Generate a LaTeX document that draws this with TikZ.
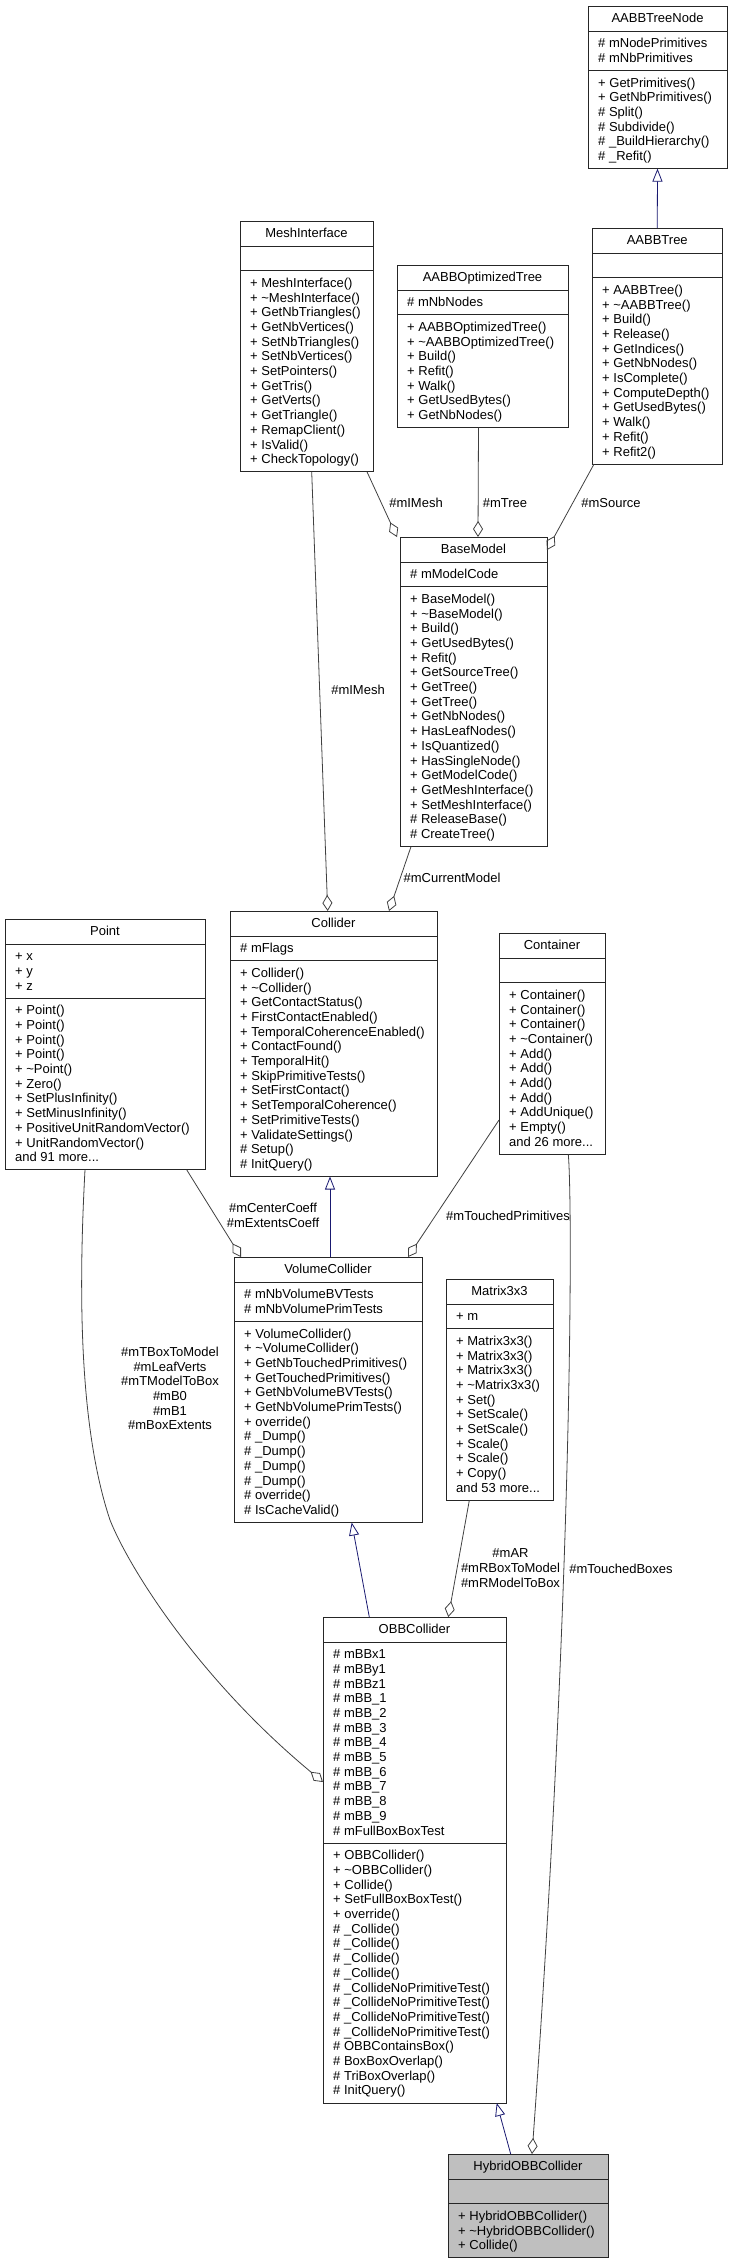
\documentclass[tikz,border=0pt]{standalone}
\usepackage{fontspec}
\setmainfont{Liberation Sans}
\usetikzlibrary{arrows.meta,calc}
\definecolor{inhblue}{HTML}{191970}
\definecolor{edgegray}{HTML}{404040}
\newcommand\ms{\rule[-3.3pt]{0pt}{14.7pt}}
\newcommand\mfont{\fontsize{13}{14.7}\selectfont}
\newcommand\tl{\textasciitilde}
\tikzset{
  classbox/.style={draw=black!85, line width=0.9pt, fill=white, inner sep=0pt, outer sep=0pt},
  sepline/.style={draw=black!85, line width=0.9pt},
  titletext/.style={inner sep=0pt, font=\mfont, anchor=north},
  membertext/.style={inner sep=0pt, font=\mfont, align=left, anchor=north west},
  lbl/.style={inner sep=0pt, font=\mfont, align=center},
  usage/.style={draw=edgegray, line width=0.8pt, -{Diamond[open, length=16pt, width=10pt]}},
  inherit/.style={draw=inhblue, line width=0.8pt, -{Triangle[open, length=13pt, width=10pt]}},
}
% [opts]{name}{x,y}{width}{title}{nattr}{attrs}{nmeth}{meths}
\newcommand\umlclass[9][]{%
  \pgfmathsetmacro\hA{max(#6,1)*14.7+10}%
  \pgfmathsetmacro\hB{max(#8,1)*14.7+10}%
  \pgfmathsetmacro\hT{25+\hA+\hB}%
  \pgfmathsetmacro\sB{25+\hA}%
  \pgfmathsetmacro\sC{30+\hA}%
  \node[classbox,#1,minimum width=#4pt,minimum height=\hT pt,anchor=north west] (#2) at (#3) {};
  \node[titletext] (#2-t) at ([yshift=-5pt]#2.north) {\ms#5};
  \draw[sepline] ([yshift=-25pt]#2.north west) -- ([yshift=-25pt]#2.north east);
  \draw[sepline] ([yshift=-\sB pt]#2.north west) -- ([yshift=-\sB pt]#2.north east);
  \ifnum#6>0 \node[membertext] (#2-a) at ([xshift=10pt,yshift=-30pt]#2.north west) {#7};\fi
  \ifnum#8>0 \node[membertext] (#2-m) at ([xshift=10pt,yshift=-\sC pt]#2.north west) {#9};\fi
}
\begin{document}
\begin{tikzpicture}[x=1pt,y=-1pt]
\useasboundingbox (0,0) rectangle (732,2265);

\umlclass{AABBTreeNode}{588,6}{139}{AABBTreeNode}{2}{\ms\# mNodePrimitives\\\ms\# mNbPrimitives}{6}{\ms+ GetPrimitives()\\\ms+ GetNbPrimitives()\\\ms\# Split()\\\ms\# Subdivide()\\\ms\# \_BuildHierarchy()\\\ms\# \_Refit()}

\umlclass{AABBTree}{592,228}{130.5}{AABBTree}{0}{}{12}{\ms+ AABBTree()\\\ms+ \tl AABBTree()\\\ms+ Build()\\\ms+ Release()\\\ms+ GetIndices()\\\ms+ GetNbNodes()\\\ms+ IsComplete()\\\ms+ ComputeDepth()\\\ms+ GetUsedBytes()\\\ms+ Walk()\\\ms+ Refit()\\\ms+ Refit2()}

\umlclass{AABBOptimizedTree}{397,265}{171}{AABBOptimizedTree}{1}{\ms\# mNbNodes}{7}{\ms+ AABBOptimizedTree()\\\ms+ \tl AABBOptimizedTree()\\\ms+ Build()\\\ms+ Refit()\\\ms+ Walk()\\\ms+ GetUsedBytes()\\\ms+ GetNbNodes()}

\umlclass{MeshInterface}{240,221}{133}{MeshInterface}{0}{}{13}{\ms+ MeshInterface()\\\ms+ \tl MeshInterface()\\\ms+ GetNbTriangles()\\\ms+ GetNbVertices()\\\ms+ SetNbTriangles()\\\ms+ SetNbVertices()\\\ms+ SetPointers()\\\ms+ GetTris()\\\ms+ GetVerts()\\\ms+ GetTriangle()\\\ms+ RemapClient()\\\ms+ IsValid()\\\ms+ CheckTopology()}

\umlclass{BaseModel}{400,537}{147}{BaseModel}{1}{\ms\# mModelCode}{17}{\ms+ BaseModel()\\\ms+ \tl BaseModel()\\\ms+ Build()\\\ms+ GetUsedBytes()\\\ms+ Refit()\\\ms+ GetSourceTree()\\\ms+ GetTree()\\\ms+ GetTree()\\\ms+ GetNbNodes()\\\ms+ HasLeafNodes()\\\ms+ IsQuantized()\\\ms+ HasSingleNode()\\\ms+ GetModelCode()\\\ms+ GetMeshInterface()\\\ms+ SetMeshInterface()\\\ms\# ReleaseBase()\\\ms\# CreateTree()}

\umlclass{Point}{5,919}{200}{Point}{3}{\ms+ x\\\ms+ y\\\ms+ z}{11}{\ms+ Point()\\\ms+ Point()\\\ms+ Point()\\\ms+ Point()\\\ms+ \tl Point()\\\ms+ Zero()\\\ms+ SetPlusInfinity()\\\ms+ SetMinusInfinity()\\\ms+ PositiveUnitRandomVector()\\\ms+ UnitRandomVector()\\\ms and 91 more...}

\umlclass{Collider}{230,911}{207}{Collider}{1}{\ms\# mFlags}{14}{\ms+ Collider()\\\ms+ \tl Collider()\\\ms+ GetContactStatus()\\\ms+ FirstContactEnabled()\\\ms+ TemporalCoherenceEnabled()\\\ms+ ContactFound()\\\ms+ TemporalHit()\\\ms+ SkipPrimitiveTests()\\\ms+ SetFirstContact()\\\ms+ SetTemporalCoherence()\\\ms+ SetPrimitiveTests()\\\ms+ ValidateSettings()\\\ms\# Setup()\\\ms\# InitQuery()}

\umlclass{Container}{499,933}{106}{Container}{0}{}{11}{\ms+ Container()\\\ms+ Container()\\\ms+ Container()\\\ms+ \tl Container()\\\ms+ Add()\\\ms+ Add()\\\ms+ Add()\\\ms+ Add()\\\ms+ AddUnique()\\\ms+ Empty()\\\ms and 26 more...}

\umlclass{VolumeCollider}{234,1257}{188}{VolumeCollider}{2}{\ms\# mNbVolumeBVTests\\\ms\# mNbVolumePrimTests}{13}{\ms+ VolumeCollider()\\\ms+ \tl VolumeCollider()\\\ms+ GetNbTouchedPrimitives()\\\ms+ GetTouchedPrimitives()\\\ms+ GetNbVolumeBVTests()\\\ms+ GetNbVolumePrimTests()\\\ms+ override()\\\ms\# \_Dump()\\\ms\# \_Dump()\\\ms\# \_Dump()\\\ms\# \_Dump()\\\ms\# override()\\\ms\# IsCacheValid()}

\umlclass{Matrix3x3}{446,1279}{107}{Matrix3x3}{1}{\ms+ m}{11}{\ms+ Matrix3x3()\\\ms+ Matrix3x3()\\\ms+ Matrix3x3()\\\ms+ \tl Matrix3x3()\\\ms+ Set()\\\ms+ SetScale()\\\ms+ SetScale()\\\ms+ Scale()\\\ms+ Scale()\\\ms+ Copy()\\\ms and 53 more...}

\umlclass{OBBCollider}{323,1617}{183}{OBBCollider}{13}{\ms\# mBBx1\\\ms\# mBBy1\\\ms\# mBBz1\\\ms\# mBB\_1\\\ms\# mBB\_2\\\ms\# mBB\_3\\\ms\# mBB\_4\\\ms\# mBB\_5\\\ms\# mBB\_6\\\ms\# mBB\_7\\\ms\# mBB\_8\\\ms\# mBB\_9\\\ms\# mFullBoxBoxTest}{17}{\ms+ OBBCollider()\\\ms+ \tl OBBCollider()\\\ms+ Collide()\\\ms+ SetFullBoxBoxTest()\\\ms+ override()\\\ms\# \_Collide()\\\ms\# \_Collide()\\\ms\# \_Collide()\\\ms\# \_Collide()\\\ms\# \_CollideNoPrimitiveTest()\\\ms\# \_CollideNoPrimitiveTest()\\\ms\# \_CollideNoPrimitiveTest()\\\ms\# \_CollideNoPrimitiveTest()\\\ms\# OBBContainsBox()\\\ms\# BoxBoxOverlap()\\\ms\# TriBoxOverlap()\\\ms\# InitQuery()}

\umlclass[fill=black!25]{Hybrid}{448,2154}{160}{HybridOBBCollider}{0}{}{3}{\ms+ HybridOBBCollider()\\\ms+ \tl HybridOBBCollider()\\\ms+ Collide()}

% connectors
\draw[inherit] (AABBTree.north) -- (AABBTreeNode.south);
\draw[usage] ([xshift=127pt]MeshInterface.south west) -- ([xshift=-3pt]BaseModel.north west);
\draw[usage] ([xshift=81.5pt]AABBOptimizedTree.south west) -- ([xshift=78pt]BaseModel.north west);
\draw[usage] ([xshift=2pt]AABBTree.south west) -- ([yshift=-13pt]BaseModel.north east);
\draw[usage] ([xshift=71.7pt]MeshInterface.south west) -- ([xshift=97.7pt]Collider.north west);
\draw[usage] ([xshift=11pt]BaseModel.south west) -- ([xshift=159pt]Collider.north west);
\draw[inherit] ([xshift=96pt]VolumeCollider.north west) -- ([xshift=100pt]Collider.south west);
\draw[usage] ([xshift=181.7pt]Point.south west) -- ([xshift=7pt]VolumeCollider.north west);
\draw[usage] ([yshift=-187pt]Container.north west) -- ([xshift=-14pt]VolumeCollider.north east);
\draw[usage] ([xshift=80pt]Point.south west) .. controls +(-7,129) and +(-30,-90) .. (110,1520)
   .. controls +(20,50) and +(-123,-102) .. ([yshift=-165pt]OBBCollider.north west);
\draw[inherit] ([xshift=46.3pt]OBBCollider.north west) -- ([xshift=117.7pt]VolumeCollider.south west);
\draw[usage] ([xshift=23.3pt]Matrix3x3.south west) -- ([xshift=125.3pt]OBBCollider.north west);
\draw[usage] ([xshift=69.3pt]Container.south west) .. controls +(4.7,54) and +(40,-554) .. ([xshift=84pt]Hybrid.north west);
\draw[inherit] ([xshift=62.7pt]Hybrid.north west) -- ([xshift=173.7pt]OBBCollider.south west);

% labels
\node[lbl] (l-imesh1) at (416,503) {\ms\#mIMesh};
\node[lbl] (l-tree) at (505,503) {\ms\#mTree};
\node[lbl] (l-source) at (611,503) {\ms\#mSource};
\node[lbl] (l-imesh2) at (358,690) {\ms\#mIMesh};
\node[lbl] (l-curmodel) at (452,878) {\ms\#mCurrentModel};
\node[lbl] (l-coeff) at (273,1216) {\ms\#mCenterCoeff\\\ms\#mExtentsCoeff};
\node[lbl] (l-touchedprim) at (508,1216) {\ms\#mTouchedPrimitives};
\node[lbl] (l-box) at (170,1389) {\ms\#mTBoxToModel\\\ms\#mLeafVerts\\\ms\#mTModelToBox\\\ms\#mB0\\\ms\#mB1\\\ms\#mBoxExtents};
\node[lbl] (l-ar) at (510.5,1568.3) {\ms\#mAR\\\ms\#mRBoxToModel\\\ms\#mRModelToBox};
\node[lbl] (l-touchedboxes) at (621,1569) {\ms\#mTouchedBoxes};
\end{tikzpicture}
\end{document}
